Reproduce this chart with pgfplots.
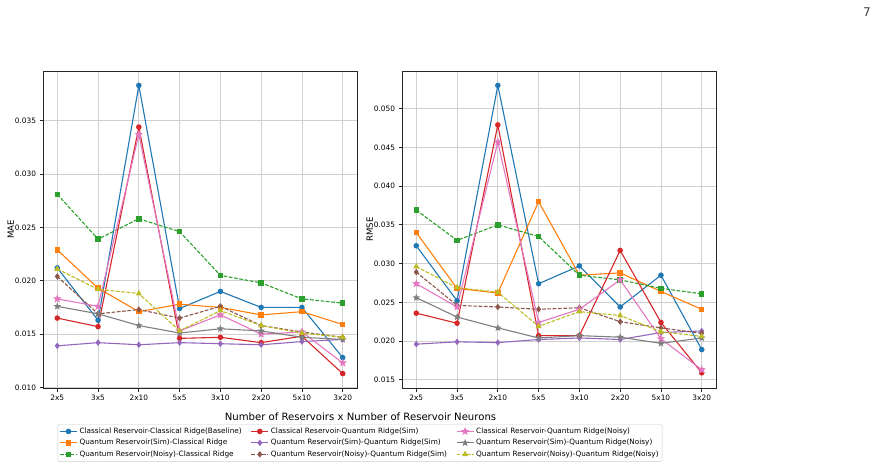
\documentclass[border=0pt]{standalone}
\usepackage{fontspec}
\setmainfont{DejaVu Sans}
\usepackage{pgfplots}
\usepackage{pgfplotstable}
\pgfplotsset{compat=1.18}

% tab10 palette
\definecolor{c1}{HTML}{1F77B4}
\definecolor{c2}{HTML}{FF7F0E}
\definecolor{c3}{HTML}{2CA02C}
\definecolor{c4}{HTML}{D62728}
\definecolor{c5}{HTML}{9467BD}
\definecolor{c6}{HTML}{8C564B}
\definecolor{c7}{HTML}{E377C2}
\definecolor{c8}{HTML}{7F7F7F}
\definecolor{c9}{HTML}{BCBD22}
\definecolor{gridgray}{HTML}{D0D0D0}

% filled five-pointed star
\pgfdeclareplotmark{fstar}{%
  \pgfpathmoveto{\pgfpointpolar{90}{\pgfplotmarksize}}%
  \pgfpathlineto{\pgfpointpolar{126}{0.42\pgfplotmarksize}}%
  \pgfpathlineto{\pgfpointpolar{162}{\pgfplotmarksize}}%
  \pgfpathlineto{\pgfpointpolar{198}{0.42\pgfplotmarksize}}%
  \pgfpathlineto{\pgfpointpolar{234}{\pgfplotmarksize}}%
  \pgfpathlineto{\pgfpointpolar{270}{0.42\pgfplotmarksize}}%
  \pgfpathlineto{\pgfpointpolar{306}{\pgfplotmarksize}}%
  \pgfpathlineto{\pgfpointpolar{342}{0.42\pgfplotmarksize}}%
  \pgfpathlineto{\pgfpointpolar{18}{\pgfplotmarksize}}%
  \pgfpathlineto{\pgfpointpolar{54}{0.42\pgfplotmarksize}}%
  \pgfpathclose
  \pgfusepathqfillstroke}

% columns: blue orange green red purple brown pink gray olive
\pgfplotstableread{
idx b      o      g      r      p      br     pk     gy     ol
0   0.0212 0.0229 0.0281 0.0165 0.0139 0.0204 0.0183 0.0176 0.0211
1   0.0163 0.0193 0.0239 0.0157 0.0142 0.0169 0.0176 0.0169 0.0192
2   0.0383 0.0171 0.0258 0.0344 0.0140 0.0173 0.0337 0.0158 0.0188
3   0.0174 0.0178 0.0246 0.0146 0.0142 0.0165 0.0153 0.0151 0.0153
4   0.0190 0.0175 0.0205 0.0147 0.0141 0.0176 0.0168 0.0155 0.0172
5   0.0175 0.0168 0.0198 0.0142 0.0140 0.0158 0.0150 0.0153 0.0158
6   0.0175 0.0171 0.0183 0.0148 0.0143 0.0152 0.0152 0.0147 0.0151
7   0.0128 0.0159 0.0179 0.0113 0.0145 0.0147 0.0123 0.0145 0.0147
}\maetable

\pgfplotstableread{
idx b      o      g      r      p      br     pk     gy     ol
0   0.0323 0.0340 0.0369 0.0236 0.0196 0.0289 0.0274 0.0256 0.0296
1   0.0252 0.0268 0.0330 0.0223 0.0199 0.0246 0.0244 0.0231 0.0269
2   0.0530 0.0262 0.0350 0.0479 0.0198 0.0244 0.0457 0.0217 0.0263
3   0.0274 0.0380 0.0335 0.0207 0.0202 0.0241 0.0224 0.0204 0.0219
4   0.0297 0.0285 0.0285 0.0207 0.0204 0.0243 0.0241 0.0207 0.0238
5   0.0244 0.0288 0.0279 0.0317 0.0202 0.0225 0.0279 0.0205 0.0233
6   0.0285 0.0264 0.0268 0.0224 0.0211 0.0217 0.0203 0.0197 0.0212
7   0.0189 0.0241 0.0261 0.0159 0.0213 0.0210 0.0163 0.0204 0.0206
}\rmsetable

\tikzset{mpldash/.style={dash pattern=on 3.7pt off 1.6pt}}

\pgfplotsset{
  resplot/.style={
    scale only axis, width=314pt, height=317pt,
    xmin=-0.35, xmax=7.35,
    xtick={0,...,7},
    xticklabels={2x5,3x5,2x10,5x5,3x10,2x20,5x10,3x20},
    grid=major,
    grid style={line width=0.8pt, color=gridgray},
    axis line style={line width=0.8pt, color=black!85},
    tick align=outside, tick pos=left,
    major tick length=3.5pt,
    every tick/.style={line width=0.8pt, black!85},
    ticklabel style={font=\fontsize{7.4}{8}\selectfont},
    /pgf/number format/assume math mode=true,
    scaled y ticks=false,
    yticklabel style={/pgf/number format/.cd, fixed, fixed zerofill, precision=3},
    label style={font=\fontsize{8.6}{10}\selectfont},
    ylabel style={at={(axis description cs:-0.103,0.5)}, anchor=center},
    every axis plot/.append style={line width=1.1pt},
  },
  s1/.style={c1, mark=*, mark size=2.2pt},
  s2/.style={c2, mark=square*, mark size=2.2pt},
  s3/.style={c3, mpldash, mark=square*, mark size=2.2pt, mark options={solid}},
  s4/.style={c4, mark=*, mark size=2.2pt},
  s5/.style={c5, mark=diamond*, mark size=2.4pt},
  s6/.style={c6, mpldash, mark=diamond*, mark size=2.4pt, mark options={solid}},
  s7/.style={c7, mark=fstar, mark size=2.9pt},
  s8/.style={c8, mark=fstar, mark size=2.4pt},
  s9/.style={c9, mpldash, mark=triangle*, mark size=2.5pt, mark options={solid}},
}

\begin{document}
\begin{tikzpicture}
\path[use as bounding box] (0pt,0pt) rectangle (880pt,-470pt);

\begin{axis}[resplot, at={(43pt,-388pt)}, anchor=south west,
  ymin=0.00995, ymax=0.03965,
  ytick={0.010,0.015,0.020,0.025,0.030,0.035},
  ylabel={MAE},
  legend columns=3, transpose legend,
  legend cell align=left,
  legend style={at={(axis description cs:1.0096,-0.1136)}, anchor=north,
    font=\fontsize{7.3}{8}\selectfont, draw=black!20, rounded corners=1.5pt,
    fill=white, inner sep=1.5pt,
    nodes={inner ysep=2.2pt},
    /tikz/every even column/.append style={column sep=7pt}},
]
\addplot[s1] table[x=idx,y=b]{\maetable};
\addplot[s2] table[x=idx,y=o]{\maetable};
\addplot[s3] table[x=idx,y=g]{\maetable};
\addplot[s4] table[x=idx,y=r]{\maetable};
\addplot[s5] table[x=idx,y=p]{\maetable};
\addplot[s6] table[x=idx,y=br]{\maetable};
\addplot[s7] table[x=idx,y=pk]{\maetable};
\addplot[s8] table[x=idx,y=gy]{\maetable};
\addplot[s9] table[x=idx,y=ol]{\maetable};
\legend{Classical Reservoir-Classical Ridge(Baseline),
  Quantum Reservoir(Sim)-Classical Ridge,
  Quantum Reservoir(Noisy)-Classical Ridge,
  Classical Reservoir-Quantum Ridge(Sim),
  Quantum Reservoir(Sim)-Quantum Ridge(Sim),
  Quantum Reservoir(Noisy)-Quantum Ridge(Sim),
  Classical Reservoir-Quantum Ridge(Noisy),
  Quantum Reservoir(Sim)-Quantum Ridge(Noisy),
  Quantum Reservoir(Noisy)-Quantum Ridge(Noisy)}
\end{axis}

\begin{axis}[resplot, at={(402pt,-388pt)}, anchor=south west,
  ymin=0.01394, ymax=0.05486,
  ytick={0.015,0.020,0.025,0.030,0.035,0.040,0.045,0.050},
  ylabel={RMSE},
]
\addplot[s1] table[x=idx,y=b]{\rmsetable};
\addplot[s2] table[x=idx,y=o]{\rmsetable};
\addplot[s3] table[x=idx,y=g]{\rmsetable};
\addplot[s4] table[x=idx,y=r]{\rmsetable};
\addplot[s5] table[x=idx,y=p]{\rmsetable};
\addplot[s6] table[x=idx,y=br]{\rmsetable};
\addplot[s7] table[x=idx,y=pk]{\rmsetable};
\addplot[s8] table[x=idx,y=gy]{\rmsetable};
\addplot[s9] table[x=idx,y=ol]{\rmsetable};
\end{axis}

\node[font=\fontsize{10.1}{12}\selectfont] at (360.5pt,-417pt) {Number of Reservoirs x Number of Reservoir Neurons};
\node[font=\fontsize{12}{14}\selectfont, text=black!75] at (867pt,-12pt) {7};
\end{tikzpicture}
\end{document}
